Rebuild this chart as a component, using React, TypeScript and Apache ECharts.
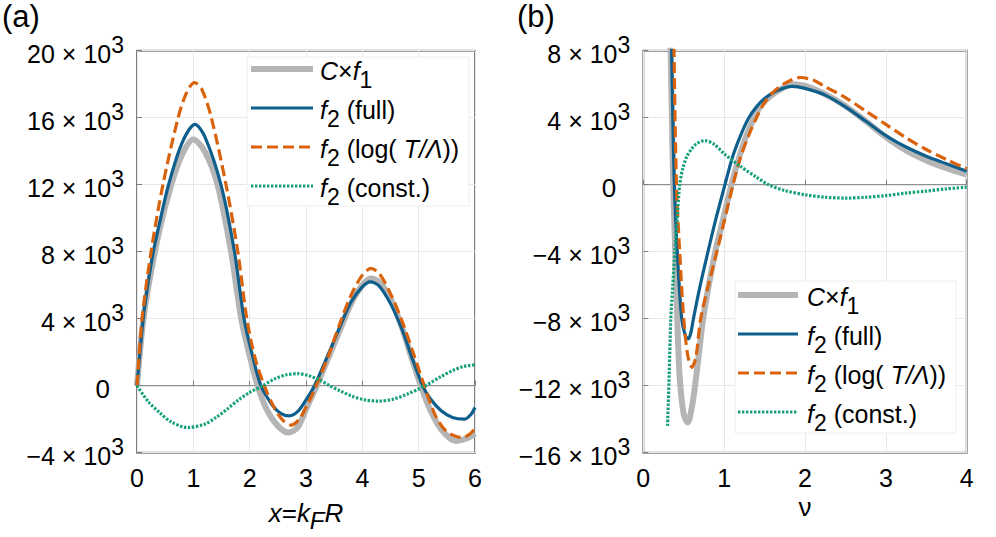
import React, { useEffect, useRef } from 'react';
import * as echarts from 'echarts';

// ---------- data (values in units of 10^3) ----------
const leftGray = [[0, 0], [0.1, 3.6], [0.2, 5.9], [0.4, 9.3], [0.6, 11.9], [0.8, 13.8], [1.0, 14.7], [1.2, 14.0], [1.43, 12], [1.67, 8], [1.85, 4], [2.0, 1.8], [2.14, 0], [2.3, -1.4], [2.5, -2.4], [2.69, -2.8], [2.85, -2.5], [3.0, -1.4], [3.19, 0], [3.4, 1.7], [3.6, 3.3], [3.8, 4.9], [4.0, 6.0], [4.15, 6.4], [4.3, 6.2], [4.5, 5.2], [4.7, 3.5], [4.9, 1.4], [5.04, 0], [5.2, -1.4], [5.4, -2.6], [5.66, -3.3], [5.85, -3.15], [6.0, -2.85]];
const leftBlue = [[0, 0], [0.11, 4], [0.2, 6.2], [0.29, 8], [0.4, 9.7], [0.56, 12], [0.8, 14.5], [1.03, 15.6], [1.2, 14.9], [1.49, 12], [1.73, 8], [1.9, 4], [2.05, 1.8], [2.2, 0], [2.4, -1.15], [2.55, -1.65], [2.7, -1.8], [2.85, -1.55], [3.0, -0.85], [3.15, 0], [3.4, 1.9], [3.6, 3.5], [3.8, 5.0], [4.0, 5.9], [4.14, 6.2], [4.3, 5.95], [4.5, 4.9], [4.7, 3.4], [4.9, 1.5], [5.07, 0], [5.2, -0.75], [5.4, -1.5], [5.6, -1.9], [5.81, -2.0], [5.92, -1.75], [6.0, -1.3]];
const leftOrange = [[0, 0], [0.09, 4], [0.25, 8], [0.46, 12], [0.73, 16], [0.88, 17.5], [1.02, 18.1], [1.15, 17.7], [1.32, 16], [1.58, 12], [1.79, 8], [1.95, 4], [2.1, 1.6], [2.26, 0], [2.45, -1.4], [2.6, -2.1], [2.73, -2.35], [2.88, -2.0], [3.03, -1.1], [3.18, 0], [3.4, 1.8], [3.6, 3.7], [3.8, 5.4], [4.0, 6.6], [4.15, 7.0], [4.3, 6.7], [4.5, 5.5], [4.7, 3.9], [4.9, 2.0], [5.1, 0], [5.3, -1.8], [5.5, -2.75], [5.78, -3.1], [5.92, -2.85], [6.0, -2.55]];
const leftGreen = [[0, 0], [0.2, -0.95], [0.4, -1.6], [0.6, -2.15], [0.9, -2.5], [1.2, -2.3], [1.4, -1.9], [1.6, -1.4], [1.8, -0.85], [2.0, -0.4], [2.23, 0], [2.45, 0.42], [2.65, 0.65], [2.85, 0.72], [3.05, 0.6], [3.25, 0.33], [3.42, 0], [3.6, -0.3], [3.8, -0.6], [4.05, -0.85], [4.3, -0.92], [4.55, -0.8], [4.8, -0.5], [5.0, -0.2], [5.12, 0], [5.4, 0.55], [5.6, 0.9], [5.8, 1.15], [6.0, 1.25]];

const rightGray = [[0.33, 10], [0.35, 5], [0.37, 0], [0.395, -4], [0.42, -8], [0.45, -11.5], [0.5, -13.7], [0.55, -14.2], [0.6, -13.3], [0.64, -12], [0.69, -10], [0.74, -8], [0.81, -6], [0.89, -4], [0.99, -2], [1.09, 0], [1.19, 1.7], [1.28, 3.0], [1.37, 4.0], [1.45, 4.7], [1.55, 5.2], [1.7, 5.7], [1.85, 6.0], [2.0, 5.9], [2.25, 5.4], [2.5, 4.7], [2.75, 3.8], [3.0, 2.85], [3.25, 2.05], [3.5, 1.45], [3.75, 0.98], [4.0, 0.6]];
const rightBlue = [[0.33, 13], [0.35, 8], [0.365, 4], [0.384, 0], [0.42, -4], [0.475, -8], [0.52, -9.0], [0.557, -9.2], [0.59, -8.8], [0.62, -8], [0.7, -6.1], [0.8, -4], [0.9, -2], [1.01, 0], [1.1, 1.6], [1.2, 2.9], [1.3, 3.95], [1.4, 4.65], [1.5, 5.15], [1.65, 5.6], [1.84, 5.87], [2.0, 5.75], [2.25, 5.35], [2.5, 4.65], [2.75, 3.8], [3.0, 2.93], [3.25, 2.25], [3.5, 1.7], [3.75, 1.25], [4.0, 0.8]];
const rightOrange = [[0.37, 14], [0.38, 8], [0.41, 0], [0.45, -4], [0.5, -8], [0.55, -10.2], [0.6, -10.9], [0.65, -10.3], [0.71, -8], [0.8, -6.1], [0.91, -4], [1.0, -2.2], [1.11, 0], [1.2, 1.6], [1.3, 2.9], [1.4, 4.0], [1.5, 4.9], [1.6, 5.5], [1.75, 6.05], [1.94, 6.4], [2.1, 6.25], [2.25, 5.85], [2.5, 5.2], [2.75, 4.4], [3.0, 3.6], [3.25, 2.8], [3.5, 2.1], [3.75, 1.5], [4.0, 0.95]];
const rightGreen = [[0.30, -14.4], [0.32, -11.3], [0.34, -8], [0.365, -6], [0.39, -4], [0.42, -2], [0.45, 0], [0.49, 1.0], [0.54, 1.7], [0.6, 2.15], [0.66, 2.45], [0.76, 2.63], [0.88, 2.4], [1.0, 1.85], [1.2, 1.1], [1.4, 0.45], [1.55, 0], [1.75, -0.35], [2.0, -0.6], [2.25, -0.75], [2.5, -0.8], [2.75, -0.75], [3.0, -0.65], [3.25, -0.5], [3.5, -0.38], [3.75, -0.25], [4.0, -0.15]];

const leftXTicks = { min: 0, max: 6, interval: 1 };
const leftYTicks = { min: -4000, max: 20000, interval: 4000 };
const rightXTicks = { min: 0, max: 4, interval: 1 };
const rightYTicks = { min: -16000, max: 8000, interval: 4000 };
const scale = 1000;

// ---------- styles ----------
const FONT = 'Liberation Sans, Arial, Helvetica, sans-serif';
const GRAY = '#b5b5b5';
const BLUE = '#0f5f8d';
const ORANGE = '#d9630d';
const GREEN = '#15a07b';
const FRAME = '#7f7f7f';
const GRID = '#e8e8e8';

const legendDefs = [
  { text: '{i|C}{n|×}{i|f}{sb|1}', color: GRAY, width: 6, dash: null as null | number[] },
  { text: '{i|f}{sb|2}{n| (full)}', color: BLUE, width: 3.2, dash: null },
  { text: '{i|f}{sb|2}{n| (log( }{i|T/Λ}{n|))}', color: ORANGE, width: 3.2, dash: [11, 5] },
  { text: '{i|f}{sb|2}{n| (const.)}', color: GREEN, width: 3.2, dash: [2.4, 1.6] },
];

const legendRich = {
  i: { fontFamily: FONT, fontStyle: 'italic', fontSize: 25, lineHeight: 40, color: '#000' },
  n: { fontFamily: FONT, fontSize: 25, lineHeight: 40, color: '#000' },
  sb: { fontFamily: FONT, fontSize: 23, verticalAlign: 'bottom', color: '#000' },
};

const nameRich = {
  i: { fontFamily: FONT, fontStyle: 'italic', fontSize: 26, lineHeight: 40, color: '#000' },
  n: { fontFamily: FONT, fontSize: 26, lineHeight: 40, color: '#000' },
  sb: { fontFamily: FONT, fontStyle: 'italic', fontSize: 24, verticalAlign: 'bottom', color: '#000' },
};

const minus = (s: string) => s.replace('-', '\u2212');
const yFmt = (v: number) =>
  v === 0 ? '{z|0}' : `{n|${minus(String(v / scale))} × 10}{s|3}`;

const yLabelRich = {
  n: { fontFamily: FONT, fontSize: 25, lineHeight: 40, color: '#000' },
  s: { fontFamily: FONT, fontSize: 23, verticalAlign: 'top', color: '#000' },
  z: { fontFamily: FONT, fontSize: 26, lineHeight: 40, padding: [0, 14, 0, 0], color: '#000' },
};

function makeXAxis(gridIndex: number, t: { min: number; max: number; interval: number }, name: string, nameGap: number) {
  return {
    type: 'value',
    gridIndex,
    min: t.min,
    max: t.max,
    interval: t.interval,
    axisLine: { show: false },
    axisTick: { show: true, inside: true, length: 5, lineStyle: { color: FRAME, width: 1 } },
    splitLine: { show: true, lineStyle: { color: GRID, width: 1 } },
    axisLabel: { fontFamily: FONT, fontSize: 25, lineHeight: 30, margin: 10, color: '#000' },
    name,
    nameLocation: 'middle',
    nameGap,
    nameMoveOverlap: false,
    nameTextStyle: { rich: nameRich, fontFamily: FONT, fontSize: 26, lineHeight: 40, color: '#000' },
  };
}

function makeYAxis(gridIndex: number, t: { min: number; max: number; interval: number }) {
  return {
    type: 'value',
    gridIndex,
    min: t.min,
    max: t.max,
    interval: t.interval,
    axisLine: { show: false },
    axisTick: { show: true, inside: true, length: 5, lineStyle: { color: FRAME, width: 1 } },
    splitLine: { show: true, lineStyle: { color: GRID, width: 1 } },
    axisLabel: {
      formatter: yFmt,
      rich: yLabelRich,
      margin: 13,
      padding: [6, 0, 0, 0],
    },
  };
}

function lineSeries(axis: number, data: number[][], color: string, width: number, dash: number[] | null, z: number, smooth: number) {
  return {
    type: 'line',
    xAxisIndex: axis,
    yAxisIndex: axis,
    data: data.map((p) => [p[0], p[1] * scale]),
    symbol: 'none',
    showSymbol: false,
    smooth,
    silent: true,
    clip: true,
    z,
    lineStyle: { color, width, type: dash ? dash : 'solid', cap: 'butt', join: 'round' },
  };
}

function legendGraphics(boxX: number, boxY: number, boxW: number, boxH: number, lineX1: number, lineX2: number, textX: number, rows: number[]) {
  const els: any[] = [
    {
      type: 'rect',
      shape: { x: boxX, y: boxY, width: boxW, height: boxH },
      style: { fill: '#ffffff', stroke: '#eeeeee', lineWidth: 1 },
      z: 100,
    },
  ];
  legendDefs.forEach((d, k) => {
    els.push({
      type: 'line',
      shape: { x1: lineX1, y1: rows[k], x2: lineX2, y2: rows[k] },
      style: { stroke: d.color, lineWidth: d.width, lineDash: d.dash || undefined, lineCap: 'butt' },
      z: 101,
    });
    els.push({
      type: 'text',
      x: textX,
      y: rows[k] + 2,
      style: { text: d.text, rich: legendRich, align: 'left', verticalAlign: 'middle', fontFamily: FONT, fontSize: 25 },
      z: 101,
    });
  });
  return els;
}

export default function App() {
  const ref = useRef<HTMLDivElement>(null);
  useEffect(() => {
    if (!ref.current) return;
    const chart = echarts.init(ref.current, null, { renderer: 'svg' });
    const option: any = {
      animation: false,
      backgroundColor: '#ffffff',
      grid: [
        { left: 137, top: 50.7, width: 338, height: 402, show: true, borderColor: FRAME, borderWidth: 2, backgroundColor: '#fff', outerBoundsMode: 'none', containLabel: false },
        { left: 643.3, top: 50.7, width: 323.4, height: 402, show: true, borderColor: FRAME, borderWidth: 2, backgroundColor: '#fff', outerBoundsMode: 'none', containLabel: false },
      ],
      xAxis: [
        makeXAxis(0, leftXTicks, '{i|x}{n|=}{i|k}{sb|F}{i|R}', 40),
        makeXAxis(1, rightXTicks, '{n|ν}', 34),
      ],
      yAxis: [makeYAxis(0, leftYTicks), makeYAxis(1, rightYTicks)],
      series: [
        lineSeries(0, [[leftXTicks.min, 0], [leftXTicks.max, 0]], '#7a7a7a', 1, null, 1, 0),
        lineSeries(0, leftGray, GRAY, 6, null, 2, 0.3),
        lineSeries(0, leftBlue, BLUE, 3.2, null, 3, 0.3),
        lineSeries(0, leftOrange, ORANGE, 3.2, [11, 5], 4, 0.3),
        lineSeries(0, leftGreen, GREEN, 3.2, [2.4, 1.6], 5, 0.3),
        lineSeries(1, [[rightXTicks.min, 0], [rightXTicks.max, 0]], '#7a7a7a', 1, null, 1, 0),
        lineSeries(1, rightGray, GRAY, 6, null, 2, 0.3),
        lineSeries(1, rightBlue, BLUE, 3.2, null, 3, 0.3),
        lineSeries(1, rightOrange, ORANGE, 3.2, [11, 5], 4, 0.3),
        lineSeries(1, rightGreen, GREEN, 3.2, [2.4, 1.6], 5, 0.3),
      ],
      graphic: [
        { type: 'text', x: 2, y: 1, style: { text: '(a)', fontFamily: FONT, fontSize: 31, fill: '#000', align: 'left', verticalAlign: 'top' } },
        { type: 'text', x: 517, y: 1, style: { text: '(b)', fontFamily: FONT, fontSize: 31, fill: '#000', align: 'left', verticalAlign: 'top' } },
        ...legendGraphics(247, 57, 222, 149, 251, 313, 320, [69, 108, 147, 186]),
        ...legendGraphics(735, 281, 221, 152, 738, 798, 807, [295, 334, 373, 412]),
      ],
    };
    chart.setOption(option);
    return () => chart.dispose();
  }, []);
  return (
    <div
      ref={ref}
      style={{ position: 'fixed', left: 0, top: 0, width: 996, height: 537, background: '#fff' }}
    />
  );
}
